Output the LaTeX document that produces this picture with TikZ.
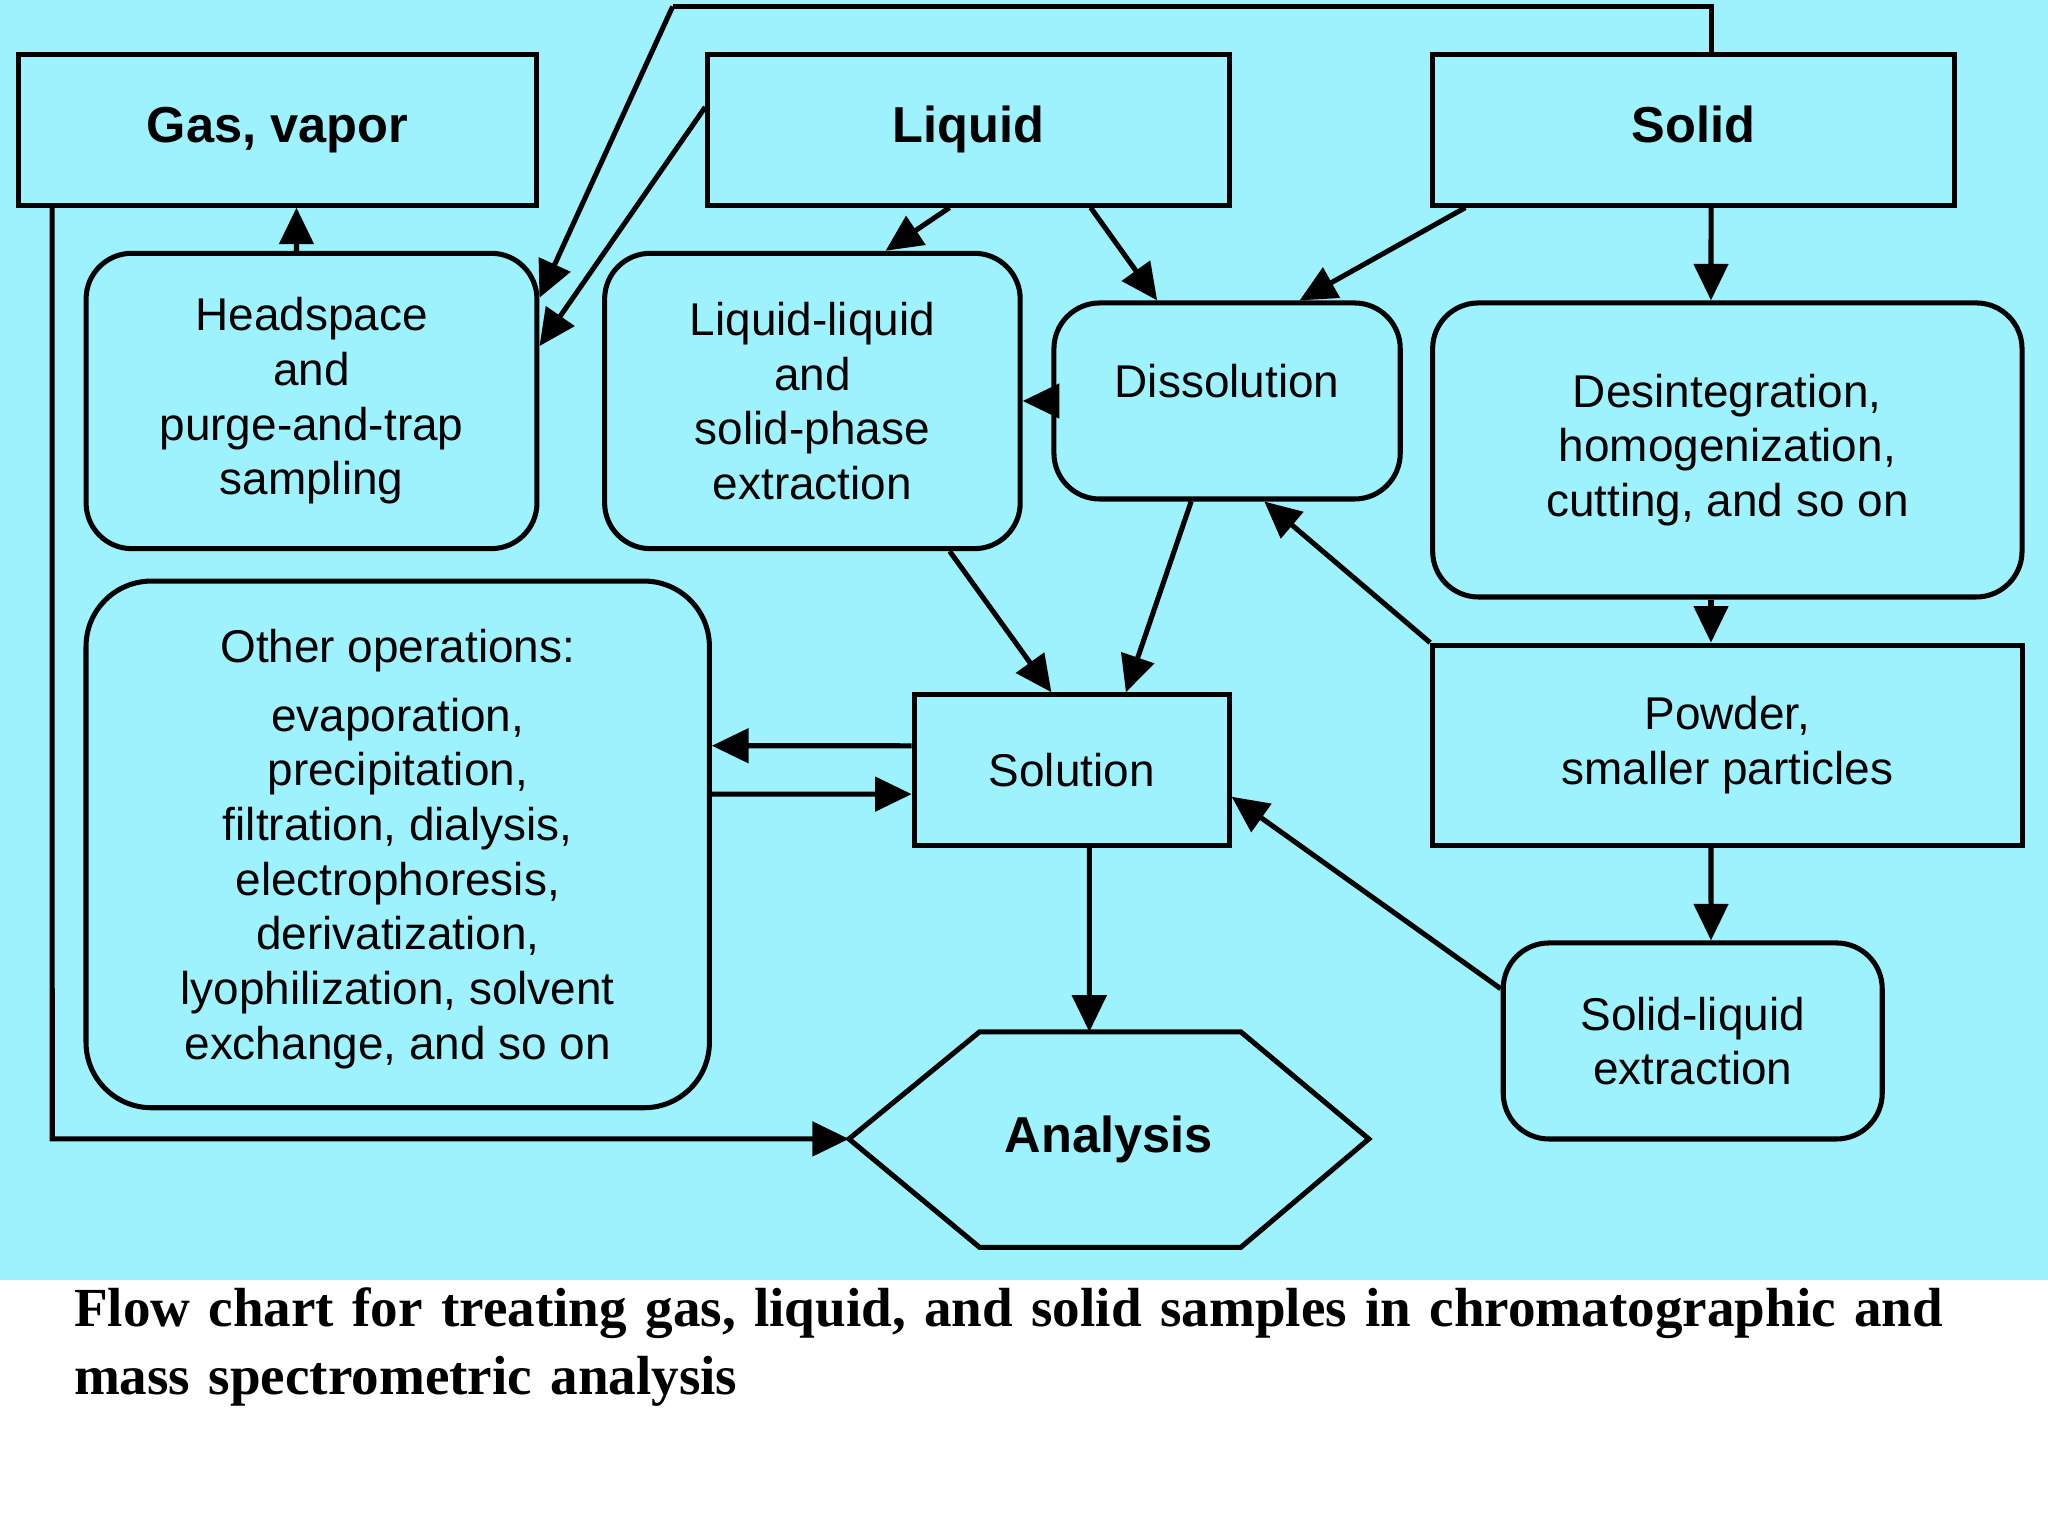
\documentclass[tikz,border=0pt]{standalone}
\usepackage{fontspec}
\setmainfont{Liberation Sans}
\newfontfamily\capfont{Liberation Serif}
\usetikzlibrary{arrows.meta}
\definecolor{bg}{HTML}{9EF2FD}
\begin{document}
\begin{tikzpicture}[x=0.01cm,y=-0.01cm,
  box/.style={draw,line width=1.1pt,align=center,inner sep=0pt,font=\fontsize{10}{11.9}\selectfont},
  rbox/.style={box,rounded corners=0.35cm},
  ttl/.style={box,font=\fontsize{11}{13}\selectfont\bfseries,text height=0.75em,text depth=0.22em},
  arr/.style={line width=1.1pt,-{Triangle[length=0.28cm,width=0.26cm]}}]
\useasboundingbox (0,0) rectangle (1568,1176);
\fill[bg] (0,0) rectangle (1568,980);
\node[ttl,minimum width=3.97cm,minimum height=1.15cm] (gas) at (212.5,99.5) {Gas, vapor};
\node[ttl,minimum width=3.99cm,minimum height=1.15cm] (liq) at (741.5,99.5) {Liquid};
\node[ttl,minimum width=3.99cm,minimum height=1.15cm] (sol) at (1296.5,99.5) {Solid};
\node[rbox,minimum width=3.45cm,minimum height=2.26cm] (hs) at (238.5,307) {Headspace\\and\\purge-and-trap\\sampling};
\node[rbox,minimum width=3.18cm,minimum height=2.26cm] (ll) at (622,307) {Liquid-liquid\\and\\solid-phase\\extraction};
\node[rbox,minimum width=2.65cm,minimum height=1.5cm] (dis) at (939.5,307) {};
\node at (939.5,292) [font=\fontsize{10}{11.9}\selectfont] {Dissolution};
\node[rbox,minimum width=4.51cm,minimum height=2.25cm] (des) at (1322.5,344.5) {Desintegration,\\homogenization,\\cutting, and so on};
\node[box,rounded corners=0.5cm,minimum width=4.77cm,minimum height=4.03cm] (oth) at (304.5,646.5) {};
\node[align=center,font=\fontsize{10}{11.9}\selectfont] at (304.5,650) {Other operations:\\[3pt]evaporation,\\precipitation,\\filtration, dialysis,\\electrophoresis,\\derivatization,\\lyophilization, solvent\\exchange, and so on};
\node[box,minimum width=2.41cm,minimum height=1.15cm] (soln) at (820.5,589.5) {Solution};
\node[box,minimum width=4.51cm,minimum height=1.53cm] (pow) at (1322.5,570.5) {Powder,\\smaller particles};
\node[rbox,minimum width=2.9cm,minimum height=1.5cm] (sle) at (1296,797) {Solid-liquid\\extraction};
\draw[line width=1.1pt] (650,872) -- (750,790) -- (950,790) -- (1048,872) -- (950,955) -- (750,955) -- cycle;
\node[font=\fontsize{11}{13}\selectfont\bfseries] (an) at (849,872) {Analysis};
\coordinate (anw) at (650,872);
\coordinate (ann) at (834,790);
\coordinate (tl) at (515,5);
\coordinate (gl) at (40,872);
% connectors
\draw[arr] ([xshift=-0.115cm]hs.north) -- ([xshift=0.145cm]gas.south);
\draw[line width=1.1pt] ([xshift=0.135cm]sol.north) |- (tl);
\draw[arr] (tl) -- ([yshift=0.79cm]hs.east);
\draw[arr] ([yshift=0.175cm]liq.west) -- ([yshift=0.42cm]hs.east);
\draw[arr] ([xshift=-0.145cm]liq.south) -- ([xshift=0.56cm]ll.north);
\draw[arr] ([xshift=0.935cm]liq.south) -- ([xshift=-0.535cm]dis.north);
\draw[arr] ([xshift=-1.745cm]sol.south) -- ([xshift=0.555cm]dis.north);
\draw[arr] ([xshift=0.135cm]sol.south) -- ([xshift=-0.125cm]des.north);
\draw[arr] (dis.west) -- (ll.east);
\draw[arr] ([xshift=-0.125cm]des.south) -- ([xshift=-0.125cm]pow.north);
\draw[arr] (pow.north west) -- ([xshift=0.285cm]dis.south);
\draw[arr] ([xshift=1.05cm]ll.south) -- ([xshift=-0.155cm]soln.north);
\draw[arr] ([xshift=-0.275cm]dis.south) -- ([xshift=0.415cm]soln.north);
\draw[arr] ([yshift=0.185cm]soln.west) -- ([yshift=0.755cm]oth.east);
\draw[arr] ([yshift=0.385cm]oth.east) -- ([yshift=-0.185cm]soln.west);
\draw[arr] ([xshift=0.135cm]soln.south) -- (ann);
\draw[arr] ([xshift=-0.125cm]pow.south) -- ([xshift=0.14cm]sle.north);
\draw[arr] ([yshift=0.4cm]sle.west) -- ([yshift=-0.205cm]soln.east);
\draw[arr] ([xshift=-1.725cm]gas.south) -- (gl) -- (anw);
\node[anchor=north west,align=left,text width=15.0cm,inner sep=0pt,
  font=\capfont\fontsize{12}{14.8}\selectfont\bfseries] (cap) at (56,985)
  {Flow chart for treating gas, liquid, and solid samples in chromatographic and\\mass spectrometric analysis};
\end{tikzpicture}
\end{document}
